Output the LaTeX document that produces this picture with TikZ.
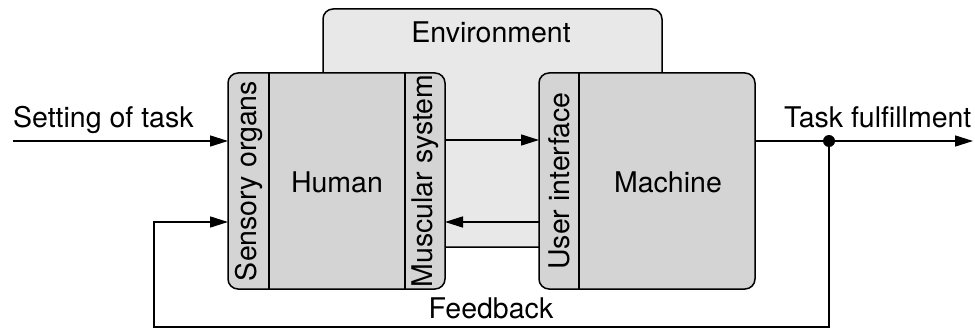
\documentclass[tikz,border=0pt]{standalone}
\usepackage{fontspec}
\setmainfont{TeX Gyre Heros}
\usetikzlibrary{arrows.meta}
\begin{document}
\begin{tikzpicture}[x=1pt,y=-1pt,
  lbl/.style={font=\fontsize{28.5}{32}\selectfont, inner sep=0pt},
  vlbl/.style={lbl, rotate=90},
  blk/.style={draw, line width=1.5pt, rounded corners=10pt, fill=boxgray, inner sep=0pt},
  conn/.style={line width=1.5pt, -{Triangle[length=18pt,width=11pt]}},
  wire/.style={line width=1.5pt}
]
\definecolor{boxgray}{RGB}{212,212,212}
\definecolor{envgray}{RGB}{232,232,232}
\useasboundingbox (0,0) rectangle (975,329);
% environment
\node[draw, line width=1.5pt, rounded corners=10pt, fill=envgray, minimum width=339pt, minimum height=238pt, inner sep=0pt] (env) at (492.5,128) {};
\node[lbl, anchor=base] (envt) at (491,43) {Environment};
% human
\node[blk, minimum width=217pt, minimum height=216pt] (human) at (336.5,181) {};
\draw[wire] (269,73) -- (269,289);
\draw[wire] (405,73) -- (405,289);
\node[lbl, anchor=base] (humant) at (337,192) {Human};
\node[vlbl] (sens) at (249,181) {Sensory organs};
\node[vlbl] (musc) at (425.5,181) {Muscular system};
% machine
\node[blk, minimum width=216pt, minimum height=216pt] (mach) at (647,181) {};
\draw[wire] (579,73) -- (579,289);
\node[lbl, anchor=base] (macht) at (668,192) {Machine};
\node[vlbl] (ui) at (559.5,181) {User interface};
% connectors
\coordinate (in) at (13,141);
\coordinate (hr) at (445,140);
\coordinate (ml) at (539,140);
\coordinate (ml2) at (539,222);
\coordinate (hr2) at (445,222);
\coordinate (mr) at (755,141);
\coordinate (out) at (973,141);
\coordinate (hl) at (228,141);
\coordinate (hl2) at (228,222);
\coordinate (dot) at (829,141);
\coordinate (fb1) at (829,327);
\coordinate (fb2) at (154,327);
\coordinate (fb3) at (154,222);
\draw[conn] (in) -- (hl);
\draw[conn] (hr) -- (ml);
\draw[conn] (ml2) -- (hr2);
\draw[conn] (mr) -- (out);
\draw[conn] (dot) -- (fb1) -- (fb2) -- (fb3) -- (hl2);
\fill (dot) circle (6pt);
\node[lbl, anchor=base west] (set) at (13,127) {Setting of task};
\node[lbl, anchor=base west] (task) at (784,127) {Task fulfillment};
\node[lbl, anchor=base] (fbt) at (491,318) {Feedback};
\end{tikzpicture}
\end{document}
